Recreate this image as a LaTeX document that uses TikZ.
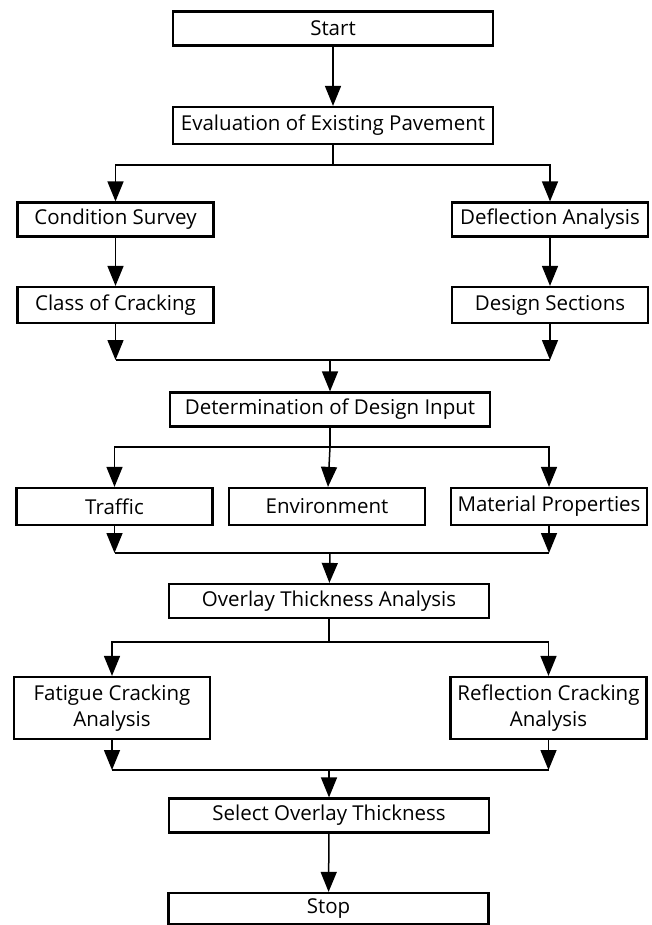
\documentclass[tikz,border=0pt]{standalone}
\usepackage{fontspec}
\setmainfont{Open Sans}
\usetikzlibrary{arrows.meta}

\begin{document}
\begin{tikzpicture}[x=1pt,y=-1pt,
        font=\fontsize{20.5}{26}\selectfont,inner sep=2pt,
        box/.style={draw,line width=2.2pt,minimum height=34pt,align=center},
        wide/.style={box,minimum width=320pt},
        side/.style={box,minimum width=196pt},
        arr/.style={-{Triangle[length=20pt,width=16pt]}},
        every path/.style={line width=1.5pt}]

    \useasboundingbox (0,0) rectangle (651,925);

    % main column
    \node[wide] (start)   at (333,28.5)  {Start};
    \node[wide,minimum height=37pt] (eval) at (333,125.5) {Evaluation of Existing Pavement};
    \node[wide] (input)   at (330,409.5) {Determination of Design Input};
    \node[wide] (overlay) at (329,601)   {Overlay Thickness Analysis};
    \node[wide] (select)  at (329,815.5) {Select Overlay Thickness};
    \node[wide,minimum height=31pt] (stop) at (328.5,908.5) {Stop};

    % side boxes
    \node[side] (cond)  at (115.5,219.5) {Condition Survey};
    \node[side] (defl)  at (550,219.5)   {Deflection Analysis};
    \node[side,minimum height=36pt] (class) at (115.5,305) {Class of Cracking};
    \node[side,minimum height=36pt] (dsec)  at (550,305)   {Design Sections};
    \node[side,minimum height=37pt] (traf)  at (114.5,506.5) {Traffic};
    \node[side,minimum height=37pt] (env)   at (327,506.5)   {Environment};
    \node[side,minimum height=37pt] (mat)   at (549,506.5)   {Material Properties};
    \node[side,minimum height=62pt] (fat)   at (112,708)     {Fatigue Cracking\\Analysis};
    \node[side,minimum height=62pt] (refl)  at (548.5,708)   {Reflection Cracking\\Analysis};

    % split and merge points
    \coordinate (s1) at (333,165);
    \coordinate (m1) at (330,360);
    \coordinate (s2) at (330,447);
    \coordinate (m2) at (330,553);
    \coordinate (s3) at (329,642);
    \coordinate (m3) at (329,770);

    \draw[arr] (start) -- (eval);

    \draw (eval) -- (s1);
    \draw[arr] (s1) -| (cond);
    \draw[arr] (s1) -| (defl);
    \draw[arr] (cond) -- (class);
    \draw[arr] (defl) -- (dsec);

    \draw[arr] (class) -- (class |- m1);
    \draw[arr] (dsec) -- (dsec |- m1);
    \draw (class |- m1) -- (dsec |- m1);
    \draw[arr] (m1) -- (input);

    \draw (input) -- (s2);
    \draw[arr] (s2) -| (traf);
    \draw[arr] (s2) -- (env);
    \draw[arr] (s2) -| (mat);

    \draw[arr] (traf) -- (traf |- m2);
    \draw[arr] (mat) -- (mat |- m2);
    \draw (traf |- m2) -- (mat |- m2);
    \draw[arr] (m2) -- (overlay);

    \draw (overlay) -- (s3);
    \draw[arr] (s3) -| (fat);
    \draw[arr] (s3) -| (refl);

    \draw[arr] (fat) -- (fat |- m3);
    \draw[arr] (refl) -- (refl |- m3);
    \draw (fat |- m3) -- (refl |- m3);
    \draw[arr] (m3) -- (select);

    \draw[arr] (select) -- (stop);
\end{tikzpicture}
\end{document}
